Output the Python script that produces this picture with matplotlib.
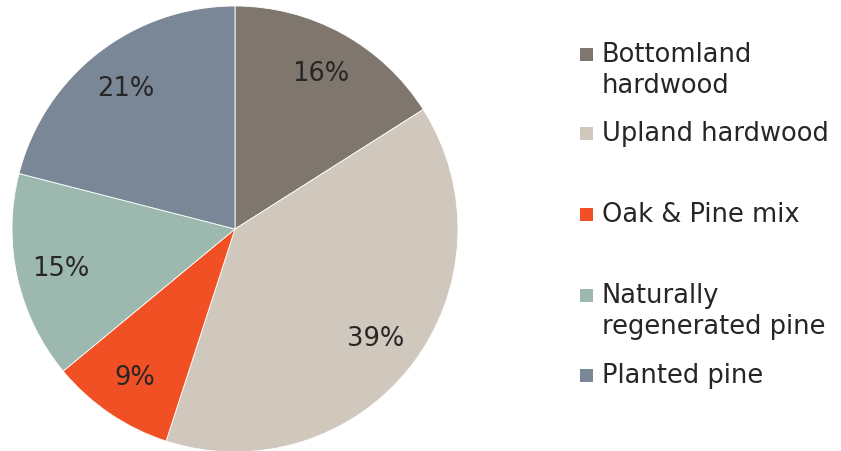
import matplotlib
matplotlib.use("Agg")
import matplotlib.pyplot as plt
from matplotlib.patches import Rectangle

plt.rcParams['font.family'] = ['DejaVu Sans']
plt.rcParams['font.sans-serif'] = ['DejaVu Sans']

categories = ["Bottomland\nhardwood", "Upland hardwood", "Oak & Pine mix",
              "Naturally\nregenerated pine", "Planted pine"]
values = [16, 39, 9, 15, 21]
colors = ["#7F776D", "#D0C8BC", "#F05023", "#9DB8AE", "#7A8796"]

W, H = 841, 452
fig = plt.figure(figsize=(W / 100, H / 100), dpi=100)
text_color = "#262626"
FONT = 'DejaVu Sans'

# pie axes: center (235, 230) px from top-left, radius ~223 px
cx, cy, r = 235, 230, 223
ax = fig.add_axes([(cx - r) / W, (H - cy - r) / H, 2 * r / W, 2 * r / H])
ax.pie(values, colors=colors, startangle=90, counterclock=False,
       labels=[f"{v}%" for v in values], labeldistance=0.8,
       textprops=dict(fontsize=18.5, color=text_color, family=FONT),
       wedgeprops=dict(linewidth=0.6, edgecolor='white'), radius=1)
for t in ax.texts:
    t.set_horizontalalignment('center')
    t.set_verticalalignment('center')
ax.set_xlim(-1, 1)
ax.set_ylim(-1, 1)
ax.set_aspect('equal')
ax.axis('off')

# manual legend (irregular spacing as in reference)
entry_y = [55, 134, 215, 296, 376]  # px from top, first line centre
line_gap = 31
sq = 13
for lab, col, y in zip(categories, colors, entry_y):
    fig.patches.append(Rectangle((580 / W, (H - y - sq / 2) / H), sq / W, sq / H,
                                 transform=fig.transFigure, facecolor=col,
                                 edgecolor='none'))
    for i, line in enumerate(lab.split("\n")):
        fig.text(602 / W, (H - y - i * line_gap) / H, line, fontsize=18.5,
                 family=FONT, color=text_color, ha='left', va='center')

fig.savefig("out.png", dpi=100)
